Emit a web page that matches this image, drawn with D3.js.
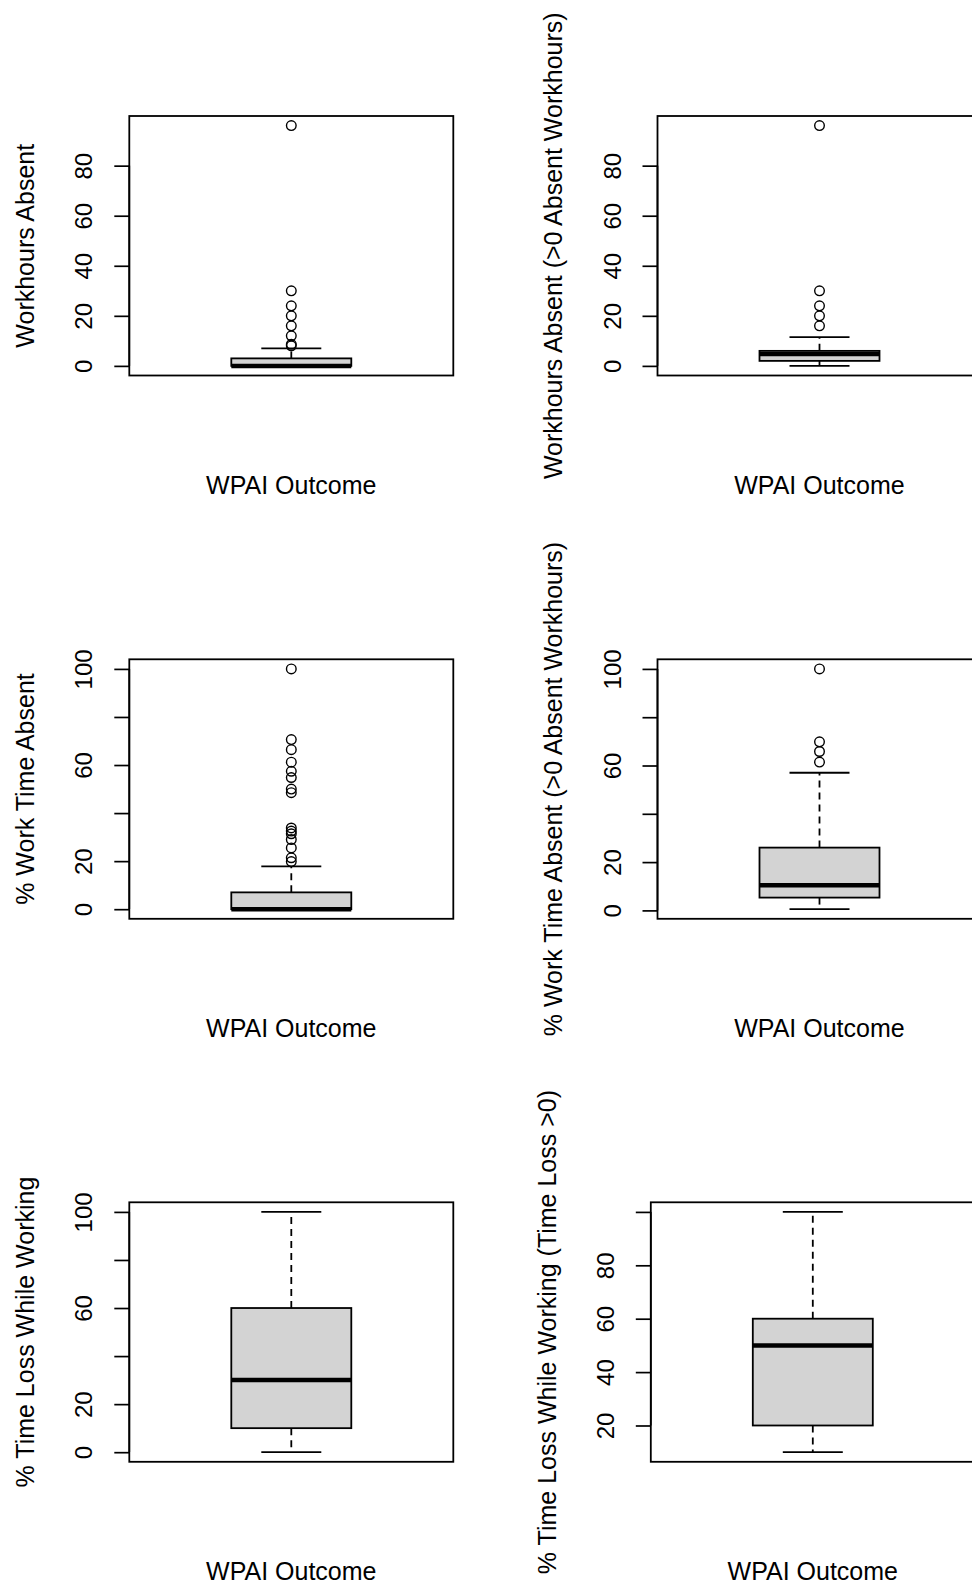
<!DOCTYPE html>
<html>
<head>
<meta charset="utf-8">
<script src="https://cdn.jsdelivr.net/npm/d3@7"></script>
<style>
  html, body { margin: 0; padding: 0; background: #fff; }
  svg text { font-family: "Liberation Sans", Arial, sans-serif; fill: #000; }
</style>
</head>
<body>
<div id="chart"></div>
<script>
(() => {
  // Data
  const yTitles = [
    'Workhours Absent',
    'Workhours Absent (>0 Absent Workhours)',
    '% Work Time Absent',
    '% Work Time Absent (>0 Absent Workhours)',
    '% Time Loss While Working',
    '% Time Loss While Working (Time Loss >0)'
  ];
  const xTitle = 'WPAI Outcome';

  const lowerWhisker = [0, 0, 0, 0.5, 0, 10];
  const q1 = [0, 2, 0, 5.3, 10, 20];
  const median = [0, 4.8, 0, 10.4, 30, 50];
  const q3 = [3, 6, 7, 26, 60, 60];
  const upperWhisker = [7, 11.5, 17.8, 57, 100, 100];
  const outliers = [
    [8, 8.6, 12, 16, 20, 24, 30, 96],
    [16, 20, 24, 30, 96],
    [19.8, 21.4, 25.5, 29, 31.4, 32.5, 33.8, 48.5, 50, 54.8, 57.4, 61.2, 66.4, 70.6, 100],
    [61.4, 65.8, 69.8, 100],
    [],
    []
  ];
  const tickLabels = [
    ['0', '20', '40', '60', '80'],
    ['0', '20', '40', '60', '80'],
    ['0', '20', '60', '100'],
    ['0', '20', '60', '100'],
    ['0', '20', '60', '100'],
    ['20', '40', '60', '80']
  ];

  // Layout
  const WIDTH = 972;
  const HEIGHT = 1585;
  const colX = [0, 528.2];
  const rowY = [0, 543.3, 1086.3];
  const PLOT_LEFT = 129.3;
  const PLOT_TOP = 116;
  const PLOT_W = 324;
  const PLOT_H = 259.5;
  const FONT = 25;

  const svg = d3
    .select('#chart')
    .append('svg')
    .attr('width', WIDTH)
    .attr('height', HEIGHT)
    .attr('viewBox', `0 0 ${WIDTH} ${HEIGHT}`);

  svg.append('rect').attr('width', WIDTH).attr('height', HEIGHT).attr('fill', '#fff');

  yTitles.forEach((title, i) => {
    const col = i % 2;
    const row = Math.floor(i / 2);
    const shift = i === 5 ? -6.7 : 0;
    const g = svg
      .append('g')
      .attr('transform', `translate(${colX[col] + shift}, ${rowY[row]})`);

    // y range like R: data range extended by 4%
    const lo = d3.min([lowerWhisker[i], ...outliers[i]]);
    const hi = d3.max([upperWhisker[i], ...outliers[i]]);
    const pad = (hi - lo) * 0.04;

    const y = d3
      .scaleLinear()
      .domain([lo - pad, hi + pad])
      .range([PLOT_TOP + PLOT_H, PLOT_TOP]);
    const x = d3
      .scaleLinear()
      .domain([0.46, 1.54])
      .range([PLOT_LEFT, PLOT_LEFT + PLOT_W]);

    // axis
    const ticks = y.ticks(5);
    const axis = d3
      .axisLeft(y)
      .tickValues(ticks)
      .tickSize(15)
      .tickFormat((d) => (tickLabels[i].includes(String(d)) ? d : ''));

    const ax = g
      .append('g')
      .attr('transform', `translate(${PLOT_LEFT}, 0)`)
      .call(axis);
    ax.select('.domain')
      .attr('d', `M0,${y(ticks[0])}V${y(ticks[ticks.length - 1])}`)
      .attr('stroke', '#000')
      .attr('stroke-width', 1.7);
    ax.selectAll('.tick line').attr('stroke', '#000').attr('stroke-width', 1.7);
    ax.selectAll('.tick text')
      .attr('transform', 'translate(-37, 0) rotate(-90)')
      .attr('x', 0)
      .attr('y', 0)
      .attr('dy', 0)
      .attr('text-anchor', 'middle')
      .attr('font-size', FONT - 1)
      .attr('font-family', '"Liberation Sans", Arial, sans-serif')
      .attr('fill', '#000');

    // whiskers (dashed) and caps
    const cx = x(1);
    const stroke = 1.8;
    g.append('line')
      .attr('x1', cx).attr('x2', cx)
      .attr('y1', y(q3[i])).attr('y2', y(upperWhisker[i]))
      .attr('stroke', '#000').attr('stroke-width', stroke)
      .attr('stroke-dasharray', '7,5');
    g.append('line')
      .attr('x1', cx).attr('x2', cx)
      .attr('y1', y(q1[i])).attr('y2', y(lowerWhisker[i]))
      .attr('stroke', '#000').attr('stroke-width', stroke)
      .attr('stroke-dasharray', '7,5');
    [upperWhisker[i], lowerWhisker[i]].forEach((v) => {
      g.append('line')
        .attr('x1', x(0.9)).attr('x2', x(1.1))
        .attr('y1', y(v)).attr('y2', y(v))
        .attr('stroke', '#000').attr('stroke-width', stroke);
    });

    // box
    g.append('rect')
      .attr('x', x(0.8))
      .attr('y', y(q3[i]))
      .attr('width', x(1.2) - x(0.8))
      .attr('height', Math.max(0, y(q1[i]) - y(q3[i])))
      .attr('fill', '#d3d3d3')
      .attr('stroke', '#000')
      .attr('stroke-width', stroke);

    // median
    g.append('line')
      .attr('x1', x(0.8)).attr('x2', x(1.2))
      .attr('y1', y(median[i])).attr('y2', y(median[i]))
      .attr('stroke', '#000').attr('stroke-width', 4.5);

    // outliers
    g.selectAll('circle.out')
      .data(outliers[i])
      .join('circle')
      .attr('class', 'out')
      .attr('cx', cx)
      .attr('cy', (d) => y(d))
      .attr('r', 4.8)
      .attr('fill', 'none')
      .attr('stroke', '#000')
      .attr('stroke-width', 1.4);

    // frame
    g.append('rect')
      .attr('x', PLOT_LEFT)
      .attr('y', PLOT_TOP)
      .attr('width', PLOT_W)
      .attr('height', PLOT_H)
      .attr('fill', 'none')
      .attr('stroke', '#000')
      .attr('stroke-width', 1.8);

    // titles
    g.append('text')
      .attr('x', PLOT_LEFT + PLOT_W / 2)
      .attr('y', PLOT_TOP + 378)
      .attr('text-anchor', 'middle')
      .attr('font-size', FONT)
      .text(xTitle);

    g.append('text')
      .attr('transform', `translate(34, ${PLOT_TOP + PLOT_H / 2}) rotate(-90)`)
      .attr('text-anchor', 'middle')
      .attr('font-size', FONT)
      .text(title);
  });
})();
</script>
</body>
</html>
